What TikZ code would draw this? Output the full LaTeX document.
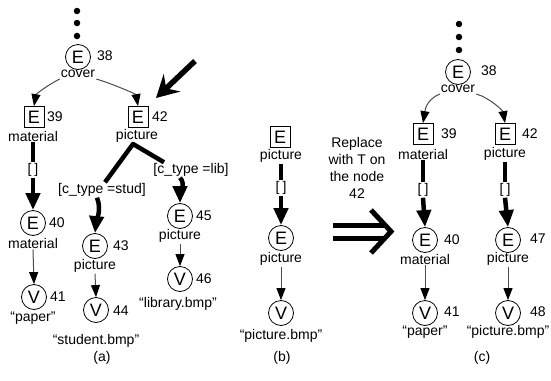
\documentclass[tikz,border=0pt]{standalone}
\usepackage{fontspec}
\setmainfont{Liberation Sans}
\usetikzlibrary{arrows.meta}
\newcommand{\emptybr}{[\hspace{3pt}]}
\begin{document}
\begin{tikzpicture}[x=1pt,y=-1pt,
  every node/.style={font=\fontsize{14}{16}\selectfont},
  ecirc/.style={circle,draw,line width=0.8pt,minimum size=25pt,inner sep=0pt,font=\fontsize{18}{18}\selectfont},
  ebox/.style={rectangle,draw,line width=0.8pt,minimum width=20pt,minimum height=21pt,inner sep=0pt,font=\fontsize{18}{18}\selectfont},
  txt/.style={inner sep=1pt},
  num/.style={inner sep=0pt,anchor=west},
  dot/.style={circle,fill=black,minimum size=6.5pt,inner sep=0pt},
  thickln/.style={line width=4.5pt},
  thickarr/.style={line width=4.5pt,-{Triangle[width=14pt,length=17pt]}},
  thinarr/.style={line width=1pt,draw=black!70,-{Triangle[width=9pt,length=12pt,color=black]}},
  bigarr/.style={line width=5.5pt,-{Stealth[length=22pt,width=24pt,inset=8pt]}},
  dblarr/.style={line width=5pt}
]
\useasboundingbox (0,0) rectangle (551,380);

% ---------------- panel (a) ----------------
\node[dot] (da1) at (77,11) {};
\node[dot] (da2) at (77,23) {};
\node[dot] (da3) at (77,36) {};
\node[ecirc] (a38) at (78,57) {E};
\node[num] (na38) at (97,56) {38};
\node[txt] (ca38) at (78,74) {cover};

\node[ebox] (a39) at (34,117) {E};
\node[num] (na39) at (47,117) {39};
\node[txt] (ca39) at (33,136) {material};

\node[ebox] (a42) at (138,117) {E};
\node[num] (na42) at (152,117) {42};
\node[txt] (ca42) at (137,136) {picture};

\coordinate (bigS) at (195,61);
\coordinate (bigE) at (156,98);
\draw[bigarr] (bigS) -- (bigE);

\draw[thinarr] (ca38.south west) .. controls +(-12,6) and +(2,-12) .. (a39.north);
\draw[thinarr] (ca38.south east) .. controls +(14,4) and +(-2,-12) .. (a42.north);

\node[txt] (ba) at (33,170) {\emptybr};
\node[ecirc] (a40) at (33,223) {E};
\node[num] (na40) at (49,223) {40};
\node[txt] (ca40) at (33,243) {material};
\node[ecirc] (a41) at (34,297) {V};
\node[num] (na41) at (50,297) {41};
\node[txt] (ca41) at (33,318) {“paper”};
\draw[thickln] (ca39.south) -- (ba.north);
\draw[thickarr] (ba.south) -- (a40.north);
\draw[thinarr] (ca40.south) -- (a41.north);

\coordinate (apex) at (133,144);
\node[txt] (stud) at (102,190) {[c\_type =stud]};
\node[txt] (lib) at (191,170) {[c\_type =lib]};
\draw[thickln,line join=round] ([xshift=3pt]stud.north) -- (apex) -- ([xshift=-27pt]lib.north);

\node[ecirc] (a43) at (95,246) {E};
\node[num] (na43) at (113,246) {43};
\node[txt] (ca43) at (95,266) {picture};
\node[ecirc] (a44) at (96,310) {V};
\node[num] (na44) at (113,311) {44};
\node[txt] (ca44) at (96,341) {“student.bmp”};
\draw[thickarr] ([xshift=-5pt]stud.south) .. controls +(5,12) and +(1,-10) .. (a43.north);
\draw[thinarr] (ca43.south) -- (a44.north);

\node[ecirc] (a45) at (180,216) {E};
\node[num] (na45) at (196,216) {45};
\node[txt] (ca45) at (180,236) {picture};
\node[ecirc] (a46) at (180,279) {V};
\node[num] (na46) at (196,279) {46};
\node[txt] (ca46) at (178,304) {“library.bmp”};
\draw[thickarr] ([xshift=-11pt]lib.south) .. controls +(6,6) and +(0,-8) .. (a45.north);
\draw[thinarr] (ca45.south) -- (a46.north);

\node[txt] (capa) at (102,358) {(a)};

% ---------------- panel (b) ----------------
\node[ebox] (bE1) at (280,137) {E};
\node[txt] (cb1) at (281,156) {picture};
\node[txt] (bb) at (281,188) {\emptybr};
\node[ecirc] (bE2) at (281,238) {E};
\node[txt] (cb2) at (281,259) {picture};
\node[ecirc] (bV) at (281,313) {V};
\node[txt] (cb3) at (281,336) {“picture.bmp”};
\draw[thickln] (cb1.south) -- (bb.north);
\draw[thickarr] (bb.south) -- (bE2.north);
\draw[thinarr] (cb2.south) -- (bV.north);
\node[txt] (capb) at (282,358) {(b)};

% ---------------- replace text and double arrow ----------------
\node[txt,align=center,font=\fontsize{14}{17}\selectfont] (rep) at (357,168) {Replace\\with T on\\the node\\42};
\draw[dblarr] (333,225) -- (385,225);
\draw[dblarr] (333,238) -- (385,238);
\draw[dblarr,line join=miter] (371,210) -- (391,231.5) -- (371,253);

% ---------------- panel (c) ----------------
\node[dot] (dc1) at (459,24) {};
\node[dot] (dc2) at (459,37) {};
\node[dot] (dc3) at (459,50) {};
\node[ecirc] (c38) at (458,72) {E};
\node[num] (nc38) at (481,71) {38};
\node[txt] (cc38) at (458,89) {cover};

\node[ebox] (c39) at (423,134) {E};
\node[num] (nc39) at (441,134) {39};
\node[txt] (cc39) at (423,154) {material};
\node[ebox] (c42) at (505,134) {E};
\node[num] (nc42) at (522,134) {42};
\node[txt] (cc42) at (505,154) {picture};
\draw[thinarr] (cc38.south west) .. controls +(-14,6) and +(2,-12) .. (c39.north);
\draw[thinarr] (cc38.south east) .. controls +(14,4) and +(-2,-12) .. (c42.north);

\node[txt] (bc1) at (423,190) {\emptybr};
\node[txt] (bc2) at (505,190) {\emptybr};
\node[ecirc] (c40) at (425,240) {E};
\node[num] (nc40) at (444,240) {40};
\node[txt] (cc40) at (425,259) {material};
\node[ecirc] (c41) at (425,313) {V};
\node[num] (nc41) at (444,312) {41};
\node[txt] (cc41) at (425,332) {“paper”};
\node[ecirc] (c47) at (508,240) {E};
\node[num] (nc47) at (530,239) {47};
\node[txt] (cc47) at (508,259) {picture};
\node[ecirc] (c48) at (508,313) {V};
\node[num] (nc48) at (530,312) {48};
\node[txt] (cc48) at (508,332) {“picture.bmp”};
\draw[thickln] (cc39.south) -- (bc1.north);
\draw[thickln] (cc42.south) -- (bc2.north);
\draw[thickarr] (bc1.south) -- (c40.north);
\draw[thickarr] (bc2.south) -- (c47.north);
\draw[thinarr] (cc40.south) -- (c41.north);
\draw[thinarr] (cc47.south) -- (c48.north);
\node[txt] (capc) at (482,358) {(c)};
\end{tikzpicture}
\end{document}
